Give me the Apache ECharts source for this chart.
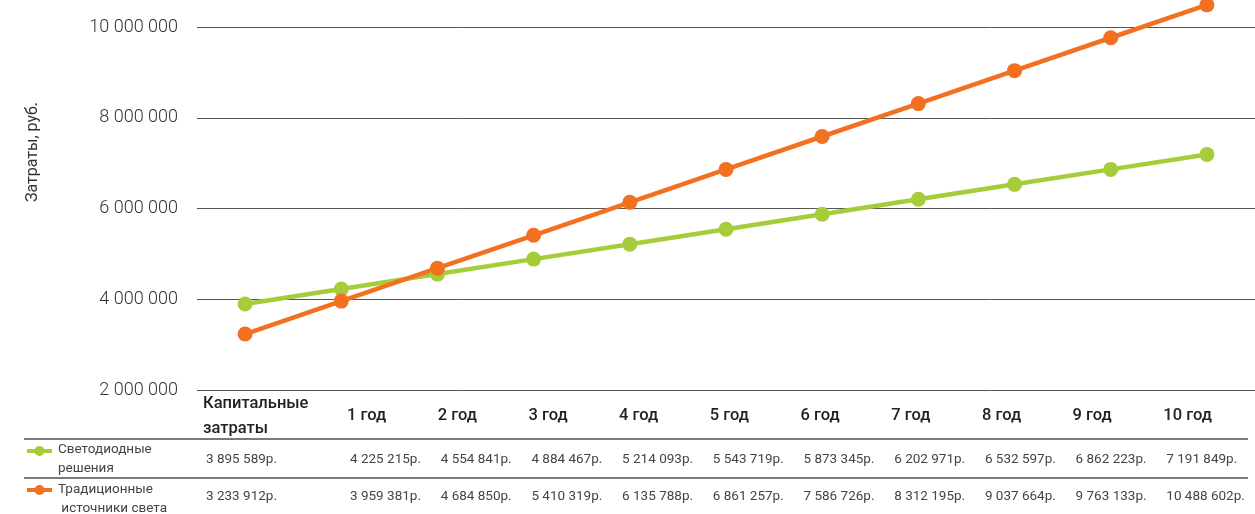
<!DOCTYPE html>
<html>
<head>
<meta charset="utf-8">
<script src="https://cdn.jsdelivr.net/npm/echarts@6/dist/echarts.min.js"></script>
<style>
  html, body { margin: 0; padding: 0; background: #fff; }
  #main { width: 1255px; height: 514px; }
</style>
</head>
<body>
<div id="main"></div>
<script>
// data
const categories = ['Капитальные\nзатраты', '1 год', '2 год', '3 год', '4 год', '5 год', '6 год', '7 год', '8 год', '9 год', '10 год'];
const ledValues = [3895589, 4225215, 4554841, 4884467, 5214093, 5543719, 5873345, 6202971, 6532597, 6862223, 7191849];
const tradValues = [3233912, 3959381, 4684850, 5410319, 6135788, 6861257, 7586726, 8312195, 9037664, 9763133, 10488602];
const seriesNames = ['Светодиодные\nрешения', 'Традиционные\n источники света'];
const yTicks = [2000000, 4000000, 6000000, 8000000, 10000000];

const colors = ['#A5CD39', '#F37021'];

function spaced(v) {
    return String(v).replace(/\B(?=(\d{3})+(?!\d))/g, ' ');
}

const chart = echarts.init(document.getElementById('main'), null, { renderer: 'canvas' });

// table under the chart
const graphic = [];
const colX = i => (i === 0 ? 203 : 347 + (i - 1) * 90.7);

graphic.push({
    type: 'text', rotation: Math.PI / 2,
    x: 33, y: 152,
    style: { text: 'Затраты, руб.', font: '16px Roboto', fill: '#333', textAlign: 'center', textVerticalAlign: 'middle' }
});

categories.forEach((c, i) => {
    graphic.push({
        type: 'text', x: colX(i), y: 416,
        style: { text: c, font: '500 16.5px Roboto', fill: '#222', textVerticalAlign: 'middle', lineHeight: 25 }
    });
});

[439, 478].forEach(y => {
    graphic.push({ type: 'line', shape: { x1: 24, y1: y, x2: 1248, y2: y }, style: { stroke: '#7a7a7a', lineWidth: 2 } });
});

const rows = [
    { values: ledValues, y: 460, iconY: 451, labelY: 459.5 },
    { values: tradValues, y: 497, iconY: 490, labelY: 499 }
];
rows.forEach((r, k) => {
    graphic.push({ type: 'line', shape: { x1: 27, y1: r.iconY, x2: 52, y2: r.iconY }, style: { stroke: colors[k], lineWidth: 4 } });
    graphic.push({ type: 'circle', shape: { cx: 39.5, cy: r.iconY, r: 5 }, style: { fill: colors[k] } });
    graphic.push({
        type: 'text', x: 58, y: r.labelY,
        style: { text: seriesNames[k], font: '13.5px Roboto', fill: '#444', textVerticalAlign: 'middle', lineHeight: 19 }
    });
    r.values.forEach((v, i) => {
        graphic.push({
            type: 'text', x: colX(i) + 3, y: r.y,
            style: { text: spaced(v) + 'р.', font: '13.5px Roboto', fill: '#444', textVerticalAlign: 'middle' }
        });
    });
});

const option = {
    animation: false,
    color: colors,
    grid: { left: 197, right: 0, top: 27, bottom: 124, containLabel: false },
    xAxis: {
        type: 'category',
        data: categories,
        boundaryGap: true,
        axisLine: { show: false },
        axisTick: { show: false },
        axisLabel: { show: false }
    },
    yAxis: {
        type: 'value',
        min: yTicks[0],
        max: yTicks[yTicks.length - 1],
        interval: 2000000,
        axisLine: { show: false },
        axisTick: { show: false },
        axisLabel: {
            margin: 19,
            fontFamily: 'Roboto',
            fontWeight: 300,
            fontSize: 18,
            color: '#333',
            padding: [0, 0, 7, 0],
            formatter: v => spaced(v)
        },
        splitLine: { lineStyle: { color: '#555', width: 1 } }
    },
    series: [
        {
            name: seriesNames[0], type: 'line', data: ledValues,
            symbol: 'circle', symbolSize: 15, clip: false,
            lineStyle: { width: 4.5 }
        },
        {
            name: seriesNames[1], type: 'line', data: tradValues,
            symbol: 'circle', symbolSize: 15, clip: false,
            lineStyle: { width: 4.5 }
        }
    ],
    graphic
};

chart.setOption(option);
</script>
</body>
</html>
